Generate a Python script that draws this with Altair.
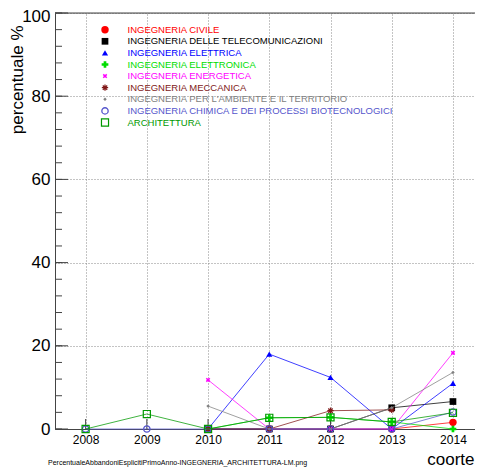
import altair as alt
import pandas as pd

years = [2008, 2009, 2010, 2011, 2012, 2013, 2014]
series = [
    "INGEGNERIA CIVILE",
    "INGEGNERIA DELLE TELECOMUNICAZIONI",
    "INGEGNERIA ELETTRICA",
    "INGEGNERIA ELETTRONICA",
    "INGEGNERIA ENERGETICA",
    "INGEGNERIA MECCANICA",
    "INGEGNERIA PER L'AMBIENTE E IL TERRITORIO",
    "INGEGNERIA CHIMICA E DEI PROCESSI BIOTECNOLOGICI",
    "ARCHITETTURA",
]
civile = [None, None, 0, 0, 0, 0, 1.6]
telecom = [None, None, 0, 0, 0, 5.1, 6.6]
elettrica = [None, None, 0, 18.0, 12.4, 0, 11.0]
elettronica = [None, None, 0, 2.7, 2.8, 1.7, 0]
energetica = [None, None, 11.8, 0, 0, 0, 18.3]
meccanica = [None, None, 0, 0, 4.4, 4.6, None]
ambiente = [None, None, 5.5, 0, 0, 5.1, 13.6]
chimica = [0, 0, 0, 0, 0, 0, 4.1]
architettura = [0, 3.6, 0, 2.7, 2.8, 1.7, 3.9]
all_values = [civile, telecom, elettrica, elettronica, energetica,
              meccanica, ambiente, chimica, architettura]

y_major = [0, 20, 40, 60, 80, 100]
y_minor = list(range(0, 101, 4))
footer = "PercentualeAbbandoniEsplicitiPrimoAnno-INGEGNERIA_ARCHITETTURA-LM.png"

# styles
colors = ["#ff0000", "#000000", "#0000ff", "#00dd00", "#ff00ff",
          "#801818", "#808080", "#5555cc", "#009900"]
star = "M-1,0L1,0M0,-1L0,1M-0.7,-0.7L0.7,0.7M-0.7,0.7L0.7,-0.7"
xmark = "M-1,-1L1,1M-1,1L1,-1"
marker_styles = [
    dict(shape="circle", size=55, filled=True),
    dict(shape="square", size=45, filled=True),
    dict(shape="triangle-up", size=38, filled=True),
    dict(shape="cross", size=45, filled=True),
    dict(shape=xmark, size=12, filled=False, strokeWidth=1.5),
    dict(shape=star, size=40, filled=False, strokeWidth=1.2),
    dict(shape="diamond", size=12, filled=True),
    dict(shape="circle", size=40, filled=False, strokeWidth=1.3),
    dict(shape="square", size=50, filled=False, strokeWidth=1.2),
]

rows = []
for s, vals in zip(series, all_values):
    for yr, v in zip(years, vals):
        if v is not None:
            rows.append({"series": s, "year": yr, "value": v})
df = pd.DataFrame(rows)
leg_df = pd.DataFrame({"series": series, "idx": list(range(len(series)))})

W, H = 420, 416
xdom = [2007.5, 2014.36]
px_per_year = W / (xdom[1] - xdom[0])
px_per_unit = H / 100.0

font = "Liberation Sans"
color_scale = alt.Scale(domain=series, range=colors)
xscale = alt.Scale(domain=xdom, nice=False, zero=False)
yscale = alt.Scale(domain=[0, 100], nice=False)

x_axis = alt.Axis(
    values=years, format="d", title="coorte", grid=True,
    gridDash=[1, 2], gridColor="#888", gridWidth=1, ticks=False,
    labelPadding=5, labelFontSize=12, labelFont=font, labelColor="#000",
    domainColor="#444", titleFontSize=17, titleFont=font,
    titleFontWeight="normal", titleAlign="right", titleAnchor="start",
    titleX=W - 1, titleY=30, titleBaseline="middle")
y_axis = alt.Axis(
    values=y_major, grid=True, gridDash=[1, 2], gridColor="#888",
    gridWidth=1, ticks=False, labelPadding=5, labelFontSize=17,
    labelOffset={"condition": {"test": "datum.value == 100", "value": 3},
                 "value": 0},
    labelFont=font, labelColor="#000", domainColor="#444",
    title="percentuale %", titleFontSize=17, titleFont=font,
    titleFontWeight="normal", titleAngle=-90, titleAlign="right",
    titleBaseline="middle", titleX=-38, titleY=12)

layers = []

# axes + top frame
frame = alt.Chart(pd.DataFrame({"v": [100]})).mark_rule(
    color="#444", strokeWidth=1).encode(
    y=alt.Y("v:Q", scale=yscale, axis=y_axis))
layers.append(frame)

xtick_df = pd.DataFrame({"year": years})
xticks = alt.Chart(xtick_df).mark_rule(color="#444").encode(
    x=alt.X("year:Q", scale=xscale, axis=x_axis),
    y=alt.value(H), y2=alt.value(H - 10))
layers.append(xticks)

ymaj = alt.Chart(pd.DataFrame({"t": y_major})).mark_rule(color="#444").encode(
    y=alt.Y("t:Q", scale=yscale, axis=None),
    x=alt.value(0), x2=alt.value(13))
ymin = alt.Chart(pd.DataFrame({"t": y_minor})).mark_rule(color="#444").encode(
    y=alt.Y("t:Q", scale=yscale, axis=None),
    x=alt.value(0), x2=alt.value(7))
layers += [ymaj, ymin]

# series: line + markers, drawn in order
for s, c, st in zip(series, colors, marker_styles):
    sub = alt.Chart(df).transform_filter(alt.datum.series == s)
    line = sub.mark_line(color=c, strokeWidth=1, opacity=0.75).encode(
        x=alt.X("year:Q", scale=xscale, axis=None),
        y=alt.Y("value:Q", scale=yscale, axis=None),
        order="year:Q")
    st2 = dict(st)
    filled = st2.pop("filled")
    sw = st2.pop("strokeWidth", 1)
    pt = sub.mark_point(color=c, filled=filled, opacity=1,
                        strokeWidth=sw, **st2).encode(
        x=alt.X("year:Q", scale=xscale, axis=None),
        y=alt.Y("value:Q", scale=yscale, axis=None))
    layers += [line, pt]

# legend
leg_base = alt.Chart(leg_df).transform_calculate(
    ly=f"100 - (16.7 + datum.idx * 11.6) / {px_per_unit}",
    lxm=f"{xdom[0]} + 50 / {px_per_year}",
    lxt=f"{xdom[0]} + 72.5 / {px_per_year}")
for s, c, st in zip(series, colors, marker_styles):
    st2 = dict(st)
    filled = st2.pop("filled")
    sw = st2.pop("strokeWidth", 1)
    lp = leg_base.transform_filter(alt.datum.series == s).mark_point(
        color=c, filled=filled, opacity=1, strokeWidth=sw, **st2).encode(
        x=alt.X("lxm:Q", scale=xscale, axis=None),
        y=alt.Y("ly:Q", scale=yscale, axis=None))
    layers.append(lp)

leg_txt = leg_base.mark_text(align="left", baseline="middle", fontSize=9.5,
                             font=font).encode(
    x=alt.X("lxt:Q", scale=xscale, axis=None),
    y=alt.Y("ly:Q", scale=yscale, axis=None),
    text="series:N",
    color=alt.Color("series:N", scale=color_scale, legend=None))
layers.append(leg_txt)

foot = alt.Chart(pd.DataFrame({"t": [footer]})).mark_text(
    align="left", baseline="middle", fontSize=7, font=font, color="#000").encode(
    x=alt.value(-7), y=alt.value(H + 34), text="t:N")
layers.append(foot)

chart = alt.layer(*layers).resolve_axis(
    x="independent", y="independent").properties(
    width=W, height=H,
    autosize=alt.AutoSizeParams(type="none"),
    padding={"left": 47, "top": 5, "right": 0, "bottom": 38},
).configure_view(stroke=None).configure(background="white")

chart.save("out.html", embed_options={"renderer": "svg", "actions": False})
